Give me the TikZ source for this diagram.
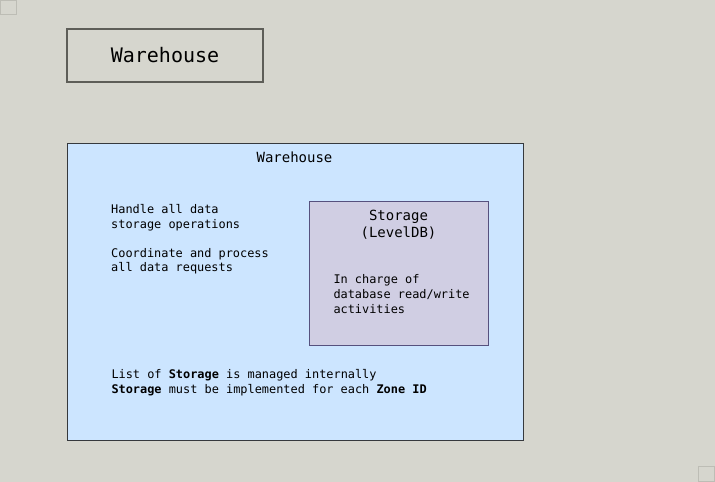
\documentclass[tikz,border=0pt]{standalone}
\usepackage{fontspec}
\setmainfont{DejaVu Sans Mono}
\usepackage{xcolor}
\usepackage{tikz}

\definecolor{bgc}{HTML}{D6D6CE}
\definecolor{markc}{HTML}{BDBDB5}
\definecolor{wareline}{HTML}{5E5E58}
\definecolor{wfill}{HTML}{CCE5FF}
\definecolor{wline}{HTML}{36393D}
\definecolor{sfill}{HTML}{D0CEE3}
\definecolor{sline}{HTML}{56517E}

\begin{document}
\begin{tikzpicture}[x=1pt, y=-1pt,
  every node/.style={font=\fontsize{11.9}{14.6}\selectfont, inner sep=0pt},
  box/.style={draw, rectangle, inner sep=0pt},
  txt/.style={anchor=north west, align=left}]
  % page
  \fill[bgc] (0,0) rectangle (715,482);
  \useasboundingbox (0,0) rectangle (715,482);
  % corner marks
  \node[box, draw=markc, minimum width=16pt, minimum height=14pt] (tl) at (8,7) {};
  \node[box, draw=markc, minimum width=16pt, minimum height=15pt] (br) at (706.5,474) {};
  % top Warehouse box
  \node[box, draw=wareline, line width=1.2pt, minimum width=196pt, minimum height=53pt,
        font=\fontsize{20}{24}\selectfont] (ware) at (165,55.5) {Warehouse};
  % Warehouse container
  \node[box, draw=wline, fill=wfill, minimum width=456pt, minimum height=297pt] (wbox) at (295,291.5) {};
  \node[font=\fontsize{14}{17}\selectfont, anchor=base] (wtitle) at (294.5,162.3) {Warehouse};
  \node[txt] (handle) at (111,204.6) {Handle all data\\storage operations};
  \node[txt] (coord) at (111,248) {Coordinate and process\\all data requests};
  % Storage box
  \node[box, draw=sline, fill=sfill, minimum width=179pt, minimum height=144pt] (stor) at (398.5,273) {};
  \node[font=\fontsize{14}{16.5}\selectfont, anchor=north, align=center] (stitle) at (398.5,210.3) {Storage\\(LevelDB)};
  \node[txt] (sdesc) at (333.3,274.6) {In charge of\\database read/write\\activities};
  % notes
  \node[txt] (notes) at (111.3,369.3) {List of \textbf{Storage} is managed internally\\\textbf{Storage} must be implemented for each \textbf{Zone ID}};
\end{tikzpicture}
\end{document}
